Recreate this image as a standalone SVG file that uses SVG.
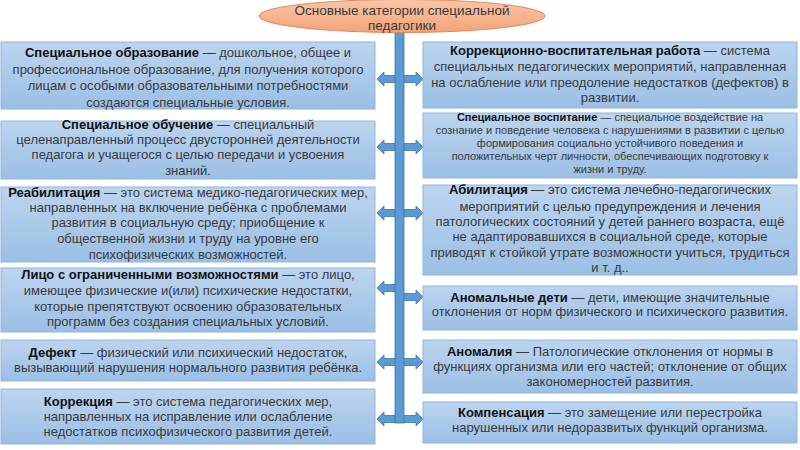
<svg xmlns="http://www.w3.org/2000/svg" width="800" height="450" viewBox="0 0 800 450">
<defs>
<linearGradient id="gBox" x1="0" y1="0" x2="0" y2="1">
<stop offset="0" stop-color="#bcd5ef"/>
<stop offset="1" stop-color="#9bbfe5"/>
</linearGradient>
<linearGradient id="gTitle" x1="0" y1="0" x2="0" y2="1">
<stop offset="0" stop-color="#f9c6a6"/>
<stop offset="1" stop-color="#f2a379"/>
</linearGradient>
<style>
.box{fill:url(#gBox);stroke:#8fb5dd;stroke-width:1}
.t{font-family:"Liberation Sans",Arial,sans-serif;font-size:13px;fill:#3a3a3a;text-anchor:middle}
.s{font-size:11px}
.b{font-weight:bold;fill:#111}
.arr{fill:#5b9bd5;stroke:#41719c;stroke-width:0.8}
</style>
</defs>
<rect width="800" height="450" fill="#ffffff"/>

<g id="connectors">
<polygon class="arr" points="377,79 384,72 384,75.5 399,75.5 399,82.5 384,82.5 384,86"/>
<polygon class="arr" points="423,79 416,72 416,75.5 399,75.5 399,82.5 416,82.5 416,86"/>
<polygon class="arr" points="377,147 384,140 384,143.5 399,143.5 399,150.5 384,150.5 384,154"/>
<polygon class="arr" points="423,147 416,140 416,143.5 399,143.5 399,150.5 416,150.5 416,154"/>
<polygon class="arr" points="377,213 384,206 384,209.5 399,209.5 399,216.5 384,216.5 384,220"/>
<polygon class="arr" points="423,213 416,206 416,209.5 399,209.5 399,216.5 416,216.5 416,220"/>
<polygon class="arr" points="377,288 384,281 384,284.5 399,284.5 399,291.5 384,291.5 384,295"/>
<polygon class="arr" points="423,297 416,290 416,293.5 399,293.5 399,300.5 416,300.5 416,304"/>
<polygon class="arr" points="377,362 384,355 384,358.5 399,358.5 399,365.5 384,365.5 384,369"/>
<polygon class="arr" points="423,362 416,355 416,358.5 399,358.5 399,365.5 416,365.5 416,369"/>
<polygon class="arr" points="377,419 384,412 384,415.5 399,415.5 399,422.5 384,422.5 384,426"/>
<polygon class="arr" points="423,419 416,412 416,415.5 399,415.5 399,422.5 416,422.5 416,426"/>
<rect class="arr" x="395" y="30" width="9" height="393"/>
</g>

<g id="title">
<ellipse cx="402" cy="16" rx="143" ry="16.5" fill="url(#gTitle)" stroke="#e08a5e" stroke-width="1"/>
<text class="t" x="402" y="15" style="font-size:13.5px">Основные категории специальной</text>
<text class="t" x="402" y="30" style="font-size:13.5px">педагогики</text>
</g>

<g id="l1">
<rect class="box" x="1" y="42" width="374" height="67"/>
<text class="t" x="188" y="57"><tspan class="b">Специальное образование</tspan> — дошкольное, общее и</text>
<text class="t" x="188" y="74">профессиональное образование, для получения которого</text>
<text class="t" x="188" y="90">лицам с особыми образовательными потребностями</text>
<text class="t" x="188" y="107">создаются специальные условия.</text>
</g>

<g id="l2">
<rect class="box" x="1" y="121" width="374" height="58"/>
<text class="t" x="188" y="129"><tspan class="b">Специальное обучение</tspan> — специальный</text>
<text class="t" x="188" y="144">целенаправленный процесс двусторонней деятельности</text>
<text class="t" x="188" y="159">педагога и учащегося с целью передачи и усвоения</text>
<text class="t" x="188" y="175">знаний.</text>
</g>

<g id="l3">
<rect class="box" x="1" y="187" width="374" height="75"/>
<text class="t" x="188" y="197"><tspan class="b">Реабилитация</tspan> — это система медико-педагогических мер,</text>
<text class="t" x="188" y="212">направленных на включение ребёнка с проблемами</text>
<text class="t" x="188" y="227">развития в социальную среду; приобщение к</text>
<text class="t" x="188" y="243">общественной жизни и труду на уровне его</text>
<text class="t" x="188" y="259">психофизических возможностей.</text>
</g>

<g id="l4">
<rect class="box" x="1" y="268" width="374" height="64"/>
<text class="t" x="188" y="279"><tspan class="b">Лицо с ограниченными возможностями</tspan> — это лицо,</text>
<text class="t" x="188" y="295">имеющее физические и(или) психические недостатки,</text>
<text class="t" x="188" y="311">которые препятствуют освоению образовательных</text>
<text class="t" x="188" y="326">программ без создания специальных условий.</text>
</g>

<g id="l5">
<rect class="box" x="1" y="340" width="374" height="41"/>
<text class="t" x="188" y="357"><tspan class="b">Дефект</tspan> — физический или психический недостаток,</text>
<text class="t" x="188" y="372">вызывающий нарушения нормального развития ребёнка.</text>
</g>

<g id="l6">
<rect class="box" x="1" y="389" width="374" height="55"/>
<text class="t" x="188" y="406"><tspan class="b">Коррекция</tspan> — это система педагогических мер,</text>
<text class="t" x="188" y="421">направленных на исправление или ослабление</text>
<text class="t" x="188" y="436">недостатков психофизического развития детей.</text>
</g>

<g id="r1">
<rect class="box" x="423" y="42" width="374" height="66"/>
<text class="t" x="610" y="55"><tspan class="b">Коррекционно-воспитательная работа</tspan> — система</text>
<text class="t" x="610" y="71">специальных педагогических мероприятий, направленная</text>
<text class="t" x="610" y="87">на ослабление или преодоление недостатков (дефектов) в</text>
<text class="t" x="610" y="102">развитии.</text>
</g>

<g id="r2">
<rect class="box" x="423" y="113" width="374" height="65"/>
<text class="t s" x="610" y="121"><tspan class="b">Специальное воспитание</tspan> — специальное воздействие на</text>
<text class="t s" x="610" y="134">сознание и поведение человека с нарушениями в развитии с целью</text>
<text class="t s" x="610" y="147">формирования социально устойчивого поведения и</text>
<text class="t s" x="610" y="160">положительных черт личности, обеспечивающих подготовку к</text>
<text class="t s" x="610" y="173">жизни и труду.</text>
</g>

<g id="r3">
<rect class="box" x="423" y="185" width="374" height="90"/>
<text class="t" x="610" y="194"><tspan class="b">Абилитация</tspan> — это система лечебно-педагогических</text>
<text class="t" x="610" y="211">мероприятий с целью предупреждения и лечения</text>
<text class="t" x="610" y="226">патологических состояний у детей раннего возраста, ещё</text>
<text class="t" x="610" y="241">не адаптировавшихся в социальной среде, которые</text>
<text class="t" x="610" y="257">приводят к стойкой утрате возможности учиться, трудиться</text>
<text class="t" x="610" y="272">и т. д..</text>
</g>

<g id="r4">
<rect class="box" x="423" y="286" width="374" height="44"/>
<text class="t" x="610" y="302"><tspan class="b">Аномальные дети</tspan> — дети, имеющие значительные</text>
<text class="t" x="610" y="316">отклонения от норм физического и психического развития.</text>
</g>

<g id="r5">
<rect class="box" x="423" y="340" width="374" height="53"/>
<text class="t" x="610" y="356"><tspan class="b">Аномалия</tspan> — Патологические отклонения от нормы в</text>
<text class="t" x="610" y="371">функциях организма или его частей; отклонение от общих</text>
<text class="t" x="610" y="386">закономерностей развития.</text>
</g>

<g id="r6">
<rect class="box" x="423" y="402" width="374" height="41"/>
<text class="t" x="610" y="417"><tspan class="b">Компенсация</tspan> — это замещение или перестройка</text>
<text class="t" x="610" y="432">нарушенных или недоразвитых функций организма.</text>
</g>
</svg>
